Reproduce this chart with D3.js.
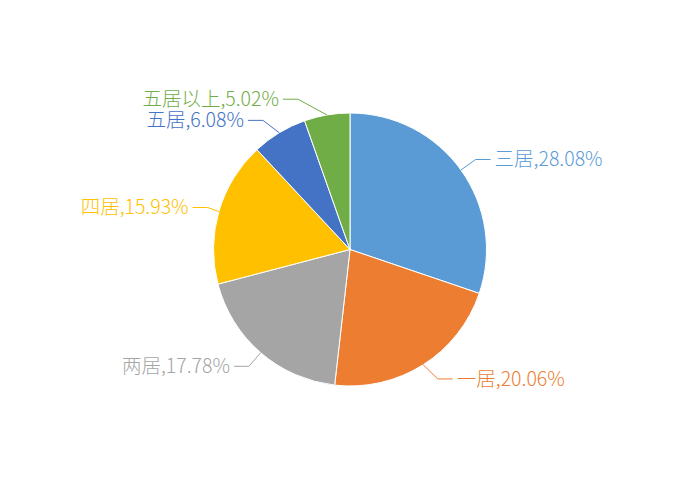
<!DOCTYPE html>
<html>
<head>
<meta charset="utf-8">
<script src="https://cdn.jsdelivr.net/npm/d3@7"></script>
<style>
  body { margin: 0; background: #fff; }
</style>
</head>
<body>
<div id="chart"></div>
<script>
// slice names and their shares (%), clockwise from 12 o'clock
const names = ["三居", "一居", "两居", "四居", "五居", "五居以上"];
const shares = [28.08, 20.06, 17.78, 15.93, 6.08, 5.02];
const colors = ["#5B9BD5", "#ED7D31", "#A5A5A5", "#FFC000", "#4472C4", "#70AD47"];

const width = 700, height = 500;
const cx = 350, cy = 249.5, radius = 136.5;

// small nudges for the label elbows so they don't collide (like excel does)
const nudge = {
  "一居": [5, -1],
  "四居": [6, 1],
  "五居": [-7, 3],
  "五居以上": [-26, 2]
};

const data = names.map((n, i) => ({ name: n, value: shares[i], color: colors[i] }));

const svg = d3.select("#chart")
  .append("svg")
  .attr("width", width)
  .attr("height", height);

const g = svg.append("g")
  .attr("transform", `translate(${cx},${cy})`);

const pie = d3.pie()
  .sort(null)
  .value(d => d.value);

const arc = d3.arc()
  .innerRadius(0)
  .outerRadius(radius);

const arcs = pie(data);

g.selectAll("path.slice")
  .data(arcs)
  .join("path")
  .attr("class", "slice")
  .attr("d", arc)
  .attr("fill", d => d.data.color)
  .attr("stroke", "#fff")
  .attr("stroke-width", 1);

// leader lines + labels
const hLen = 15, gap = 4;
arcs.forEach(d => {
  const mid = (d.startAngle + d.endAngle) / 2;
  const sx = Math.sin(mid), sy = -Math.cos(mid);
  const p0 = [sx * radius, sy * radius];
  const n = nudge[d.data.name] || [0, 0];
  const p1 = [sx * (radius + 18) + n[0], sy * (radius + 18) + n[1]];
  const right = sx >= 0;
  const p2 = [p1[0] + (right ? hLen : -hLen), p1[1]];

  g.append("polyline")
    .attr("points", [p0, p1, p2].map(p => p.join(",")).join(" "))
    .attr("fill", "none")
    .attr("stroke", d.data.color)
    .attr("stroke-width", 1);

  g.append("text")
    .attr("x", p2[0] + (right ? gap : -gap))
    .attr("y", p2[1])
    .attr("dy", "0.35em")
    .attr("text-anchor", right ? "start" : "end")
    .attr("fill", d.data.color)
    .style("font-family", "'Noto Sans CJK SC', 'Noto Sans', sans-serif")
    .style("font-size", "19.5px")
    .style("font-weight", 300)
    .text(`${d.data.name},${d.data.value.toFixed(2)}%`);
});
</script>
</body>
</html>
